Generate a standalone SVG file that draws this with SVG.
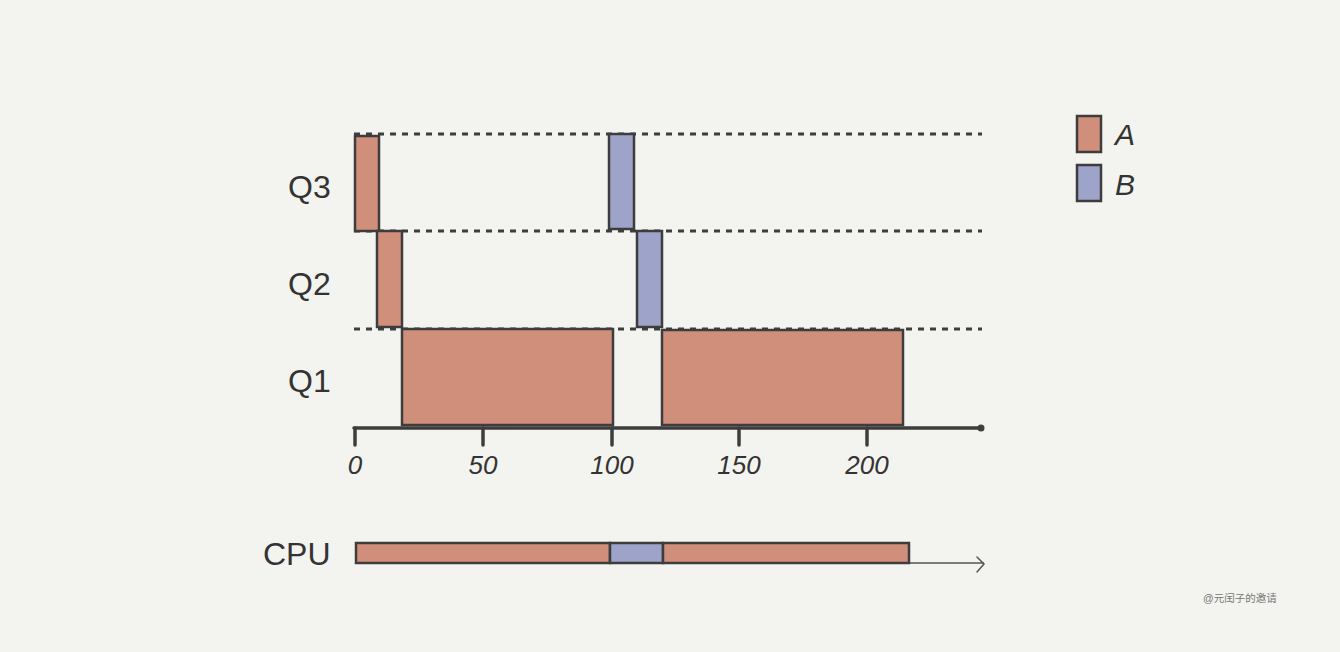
<svg xmlns="http://www.w3.org/2000/svg" width="1340" height="652" viewBox="0 0 1340 652">
<defs>
<style>
.bg{fill:#f3f3ef}
.a{fill:#d08f7a;stroke:#3d3d3d;stroke-width:2.5}
.b{fill:#9da3c9;stroke:#3d3d3d;stroke-width:2.5}
.dash{stroke:#3d3d3d;stroke-width:3;stroke-dasharray:6 6;fill:none}
.axis{stroke:#3d3d3d;stroke-width:3.5;fill:none;stroke-linecap:round}
.q{font-family:"Liberation Sans",Arial,sans-serif;font-size:32px;fill:#333}
.num{font-family:"Liberation Sans",Arial,sans-serif;font-size:26px;font-style:italic;fill:#333;text-anchor:middle}
.leg{font-family:"Liberation Sans",Arial,sans-serif;font-size:30px;font-style:italic;fill:#333}
.wm{font-family:"Liberation Sans","Noto Sans CJK SC",sans-serif;font-size:10.5px;fill:#777}
</style>
</defs>
<rect class="bg" x="0" y="0" width="1340" height="652"/>
<g id="connectors">
<line class="dash" x1="354" y1="134" x2="982" y2="134"/>
<line class="dash" x1="354" y1="231" x2="982" y2="231"/>
<line class="dash" x1="354" y1="329" x2="982" y2="329"/>
<line class="axis" x1="354" y1="428" x2="981" y2="428"/>
<circle cx="981" cy="428" r="3.5" fill="#3d3d3d"/>
<path class="axis" d="M355 428V445M483 428V445M612 428V445M739 428V445M867 428V445"/>
<path d="M356 563H984" stroke="#555" stroke-width="1.5" fill="none"/>
<path d="M977 557L984 564L977 572" stroke="#555" stroke-width="1.5" fill="none" stroke-linecap="round"/>
</g>
<g id="labels">
<text class="q" x="288" y="198">Q3</text>
<text class="q" x="288" y="295">Q2</text>
<text class="q" x="288" y="392">Q1</text>
<text class="q" x="263" y="565">CPU</text>
<text class="num" x="355" y="474">0</text>
<text class="num" x="483" y="474">50</text>
<text class="num" x="612" y="474">100</text>
<text class="num" x="739" y="474">150</text>
<text class="num" x="867" y="474">200</text>
</g>
<g id="q3-a"><rect class="a" x="355" y="136" width="24" height="95"/></g>
<g id="q3-b"><rect class="b" x="609" y="134" width="25" height="95"/></g>
<g id="q2-a"><rect class="a" x="377" y="231" width="25" height="96"/></g>
<g id="q2-b"><rect class="b" x="637" y="231" width="25" height="96"/></g>
<g id="q1-a1"><rect class="a" x="402" y="329" width="211" height="96"/></g>
<g id="q1-a2"><rect class="a" x="662" y="330" width="241" height="95"/></g>
<g id="cpu">
<rect class="a" x="356" y="543" width="254" height="20"/>
<rect class="b" x="610" y="543" width="53" height="20"/>
<rect class="a" x="663" y="543" width="246" height="20"/>
</g>
<g id="legend">
<rect class="a" x="1077" y="116" width="24" height="36"/>
<text class="leg" x="1115" y="145">A</text>
<rect class="b" x="1077" y="165" width="24" height="36"/>
<text class="leg" x="1115" y="195">B</text>
</g>
<text class="wm" x="1203" y="602">@元闰子的邀请</text>
</svg>
